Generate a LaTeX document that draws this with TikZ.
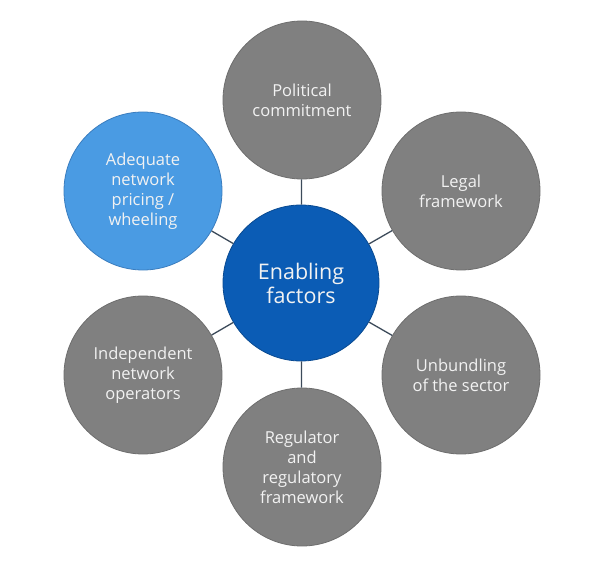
\documentclass[tikz,border=0pt]{standalone}
\usepackage{fontspec}
\setmainfont{Open Sans}
\definecolor{greyfill}{HTML}{808080}
\definecolor{greyline}{HTML}{6E6E6E}
\definecolor{lightblue}{HTML}{4A9BE3}
\definecolor{lightblueline}{HTML}{3A7DBF}
\definecolor{darkblue}{HTML}{0B5CB5}
\definecolor{connector}{HTML}{3C4A5A}
\definecolor{textwhite}{HTML}{F2F2F2}
\begin{document}
\begin{tikzpicture}[x=1pt,y=-1pt,
  factor/.style={circle,minimum size=158pt,inner sep=0pt,fill=greyfill,draw=greyline,line width=0.8pt,
    text=textwhite,align=center,font=\fontsize{16.5}{20}\selectfont},
  hub/.style={circle,minimum size=156pt,inner sep=0pt,fill=darkblue,draw=darkblue!80!black,line width=0.8pt,
    text=textwhite,align=center,font=\fontsize{21.5}{24}\selectfont},
  link/.style={draw=connector,line width=1.3pt}]
\useasboundingbox (0,0) rectangle (591,569);
\fill[white] (0,0) rectangle (591,569);
\node[hub] (c) at (301,283) {Enabling\\factors};
\node[factor] (t) at (302,100) {Political\\commitment};
\node[factor] (ur) at (461,191) {Legal\\framework};
\node[factor] (lr) at (461,375) {Unbundling\\of the sector};
\node[factor] (b) at (302,467) {Regulator\\and\\regulatory\\framework};
\node[factor] (ll) at (143,375) {Independent\\network\\operators};
\node[factor,fill=lightblue,draw=lightblueline] (ul) at (143,191) {Adequate\\network\\pricing /\\wheeling};
\foreach \n in {t,ur,lr,b,ll,ul}{
  \draw[link] (c) -- (\n);
}
\end{tikzpicture}
\end{document}
